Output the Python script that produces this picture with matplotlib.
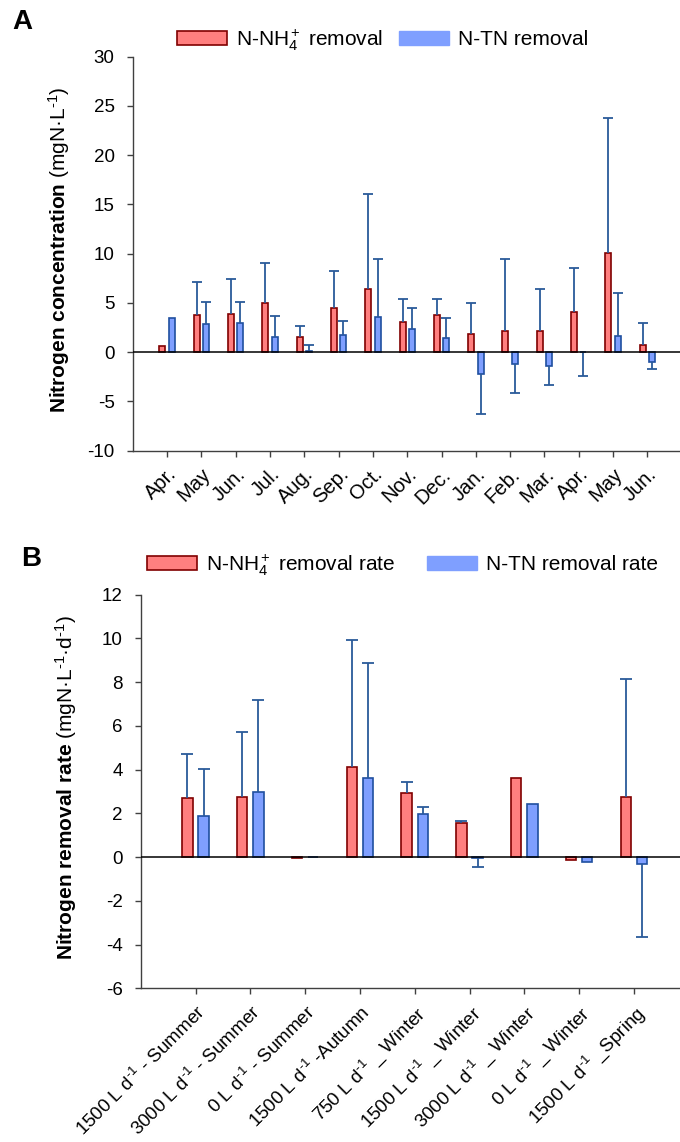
import numpy as np
import matplotlib.pyplot as plt
from matplotlib.patches import Patch

plt.rcParams['font.family'] = ['Liberation Sans', 'DejaVu Sans']
plt.rcParams['mathtext.fontset'] = 'custom'
plt.rcParams['mathtext.rm'] = 'Liberation Sans'
plt.rcParams['mathtext.it'] = 'Liberation Sans:italic'
plt.rcParams['mathtext.bf'] = 'Liberation Sans:bold'
plt.rcParams['mathtext.default'] = 'regular'
plt.rcParams['axes.unicode_minus'] = False
plt.rcParams['font.size'] = 13.5

# ---- panel A data: monthly removal (mgN/L)
months = ['Apr.', 'May', 'Jun.', 'Jul.', 'Aug.', 'Sep.', 'Oct.', 'Nov.',
          'Dec.', 'Jan.', 'Feb.', 'Mar.', 'Apr.', 'May', 'Jun.']
nh4_conc = [0.68, 3.78, 3.92, 5.00, 1.52, 4.53, 6.39, 3.11, 3.75, 1.82, 2.13, 2.16, 4.05, 10.03, 0.71]
nh4_conc_err = [0, 3.31, 3.51, 4.09, 1.18, 3.75, 9.66, 2.33, 1.69, 3.21, 7.33, 4.29, 4.46, 13.79, 2.23]
tn_conc = [3.51, 2.87, 2.94, 1.52, 0.17, 1.79, 3.55, 2.36, 1.42, -2.23, -1.22, -1.39, -0.03, 1.66, -1.01]
tn_conc_err = [0, 2.27, 2.20, 2.20, 0.61, 1.39, 5.91, 2.17, 2.09, 4.05, 2.94, 1.89, 2.40, 4.39, 0.65]

# ---- panel B data: removal rates (mgN/L/d)
scenarios = [r'1500 L d$^{\text{-1}}$ - Summer', r'3000 L d$^{\text{-1}}$ - Summer',
             r'0 L d$^{\text{-1}}$ - Summer', r'1500 L d$^{\text{-1}}$ -Autumn',
             r'750 L d$^{\text{-1}}$ _ Winter', r'1500 L d$^{\text{-1}}$ _ Winter',
             r'3000 L d$^{\text{-1}}$ _ Winter', r'0 L d$^{\text{-1}}$ _ Winter',
             r'1500 L d$^{\text{-1}}$ _Spring']
nh4_rate = [2.71, 2.73, -0.06, 4.13, 2.91, 1.54, 3.63, -0.11, 2.74]
nh4_rate_err = [1.99, 3.00, 0, 5.78, 0.54, 0.11, 0, 0, 5.39]
tn_rate = [1.86, 2.96, 0.01, 3.63, 1.95, -0.02, 2.41, -0.24, -0.30]
tn_rate_err = [2.19, 4.24, 0, 5.26, 0.34, 0.42, 0, 0, 3.36]

red_fill = '#ff7f7f'
red_edge = '#800000'
blue_fill = '#7f9fff'
blue_edge = '#1f4f9f'
err_col = '#2a5a9a'
axis_col = '#404040'


def draw_panel(ax, cats, v1, e1, v2, e2, width, offset, capsize, xfs):
    x = np.arange(len(cats))
    ax.bar(x - offset, v1, width, color=red_fill, edgecolor=red_edge, linewidth=1.2, zorder=2)
    ax.bar(x + offset, v2, width, color=blue_fill, edgecolor=blue_edge, linewidth=1.2, zorder=2)
    # one-sided error bars, pointing away from zero
    for xs, v, e in [(x - offset, v1, e1), (x + offset, v2, e2)]:
        v = np.asarray(v, float)
        e = np.asarray(e, float)
        m = e > 0
        ends = np.where(v >= 0, v + e, v - e)
        ax.vlines(xs[m], v[m], ends[m], color=err_col, linewidth=1.3, zorder=3)
        ax.plot(xs[m], ends[m], linestyle='none', marker='_', markersize=capsize,
                markeredgewidth=1.3, color=err_col, zorder=3)
    ax.axhline(0, color='black', linewidth=1.1, zorder=4)
    ax.set_xticks(x)
    ax.set_xticklabels(cats, rotation=45, ha='right', rotation_mode='anchor', fontsize=xfs)
    for s in ['top', 'right']:
        ax.spines[s].set_visible(False)
    for s in ['left', 'bottom']:
        ax.spines[s].set_color(axis_col)
        ax.spines[s].set_linewidth(1.0)
    ax.tick_params(direction='out', length=4, color=axis_col, width=1.0)
    ax.tick_params(axis='y', pad=9)
    ax.tick_params(axis='x', pad=6)


fig = plt.figure(figsize=(6.8, 11.42), dpi=100)
W, H = 680.0, 1142.0

# panel A
axA = fig.add_axes([132.7 / W, 1 - 450.7 / H, (W - 132.7) / W, 394.0 / H])
draw_panel(axA, months, nh4_conc, nh4_conc_err, tn_conc, tn_conc_err, 0.175, 0.137, 7, 14.5)
axA.set_xlim(-1, 14.95)
axA.set_ylim(-10, 30)
axA.set_yticks(np.arange(-10, 31, 5))
axA.set_ylabel(r'$\mathbf{Nitrogen\ concentration}$ (mgN·L$^{\text{-1}}$)', fontsize=15)
axA.yaxis.set_label_coords(-0.111, 0.51)

# panel B
axB = fig.add_axes([140.7 / W, 1 - 988.3 / H, (W - 140.7) / W, 393.6 / H])
draw_panel(axB, scenarios, nh4_rate, nh4_rate_err, tn_rate, tn_rate_err, 0.19, 0.148, 8, 13.5)
axB.set_xlim(-1, 8.84)
axB.set_ylim(-6, 12)
axB.set_yticks(np.arange(-6, 13, 2))
axB.set_ylabel(r'$\mathbf{Nitrogen\ removal\ rate}$ (mgN·L$^{\text{-1}}$·d$^{\text{-1}}$)', fontsize=15)
axB.yaxis.set_label_coords(-0.114, 0.51)

# legends
hA = [Patch(facecolor=red_fill, edgecolor=red_edge, linewidth=1.2),
      Patch(facecolor=blue_fill, edgecolor=blue_fill)]
fig.legend(hA, [r'N-NH$_4^+$ removal', 'N-TN removal'], loc='center left',
           bbox_to_anchor=(177 / W, 1 - 40 / H), ncol=2, frameon=False, fontsize=15,
           handlelength=2.4, handleheight=0.6, handletextpad=0.45,
           columnspacing=0.75, borderpad=0, borderaxespad=0)
fig.legend(hA, [r'N-NH$_4^+$ removal rate', 'N-TN removal rate'], loc='center left',
           bbox_to_anchor=(147 / W, 1 - 565 / H), ncol=2, frameon=False, fontsize=15,
           handlelength=2.4, handleheight=0.6, handletextpad=0.45,
           columnspacing=1.5, borderpad=0, borderaxespad=0)

fig.text(12 / W, 1 - 22 / H, 'A', fontsize=20, fontweight='bold', va='center')
fig.text(21 / W, 1 - 559 / H, 'B', fontsize=20, fontweight='bold', va='center')

fig.savefig('out.png', dpi=100)
